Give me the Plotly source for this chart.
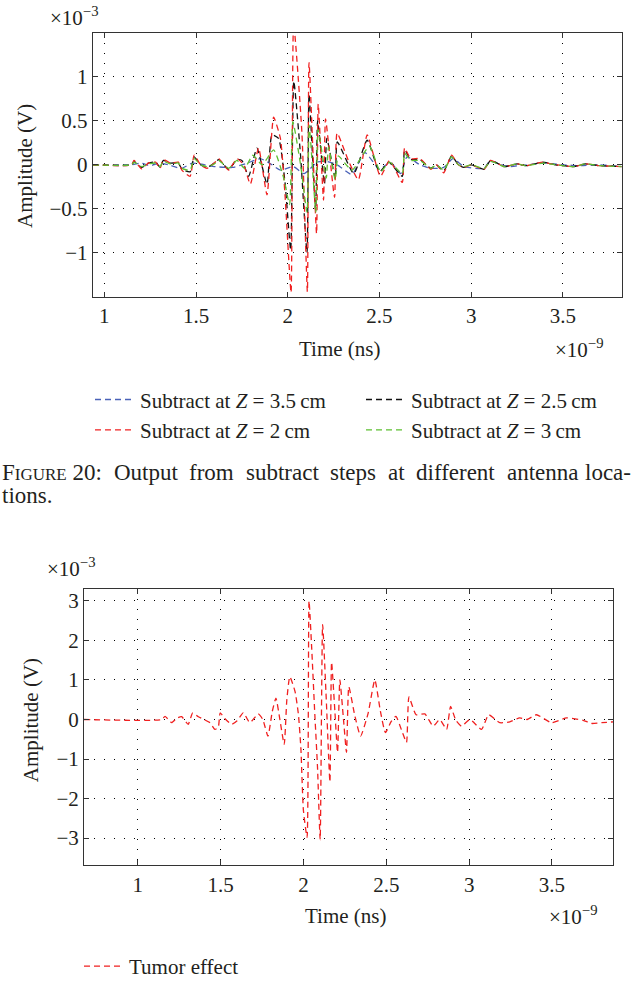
import plotly.graph_objects as go

# ---------------- data (time in ns, amplitude in mV) ----------------
t_z35 = [0.937, 1.150, 1.200, 1.250, 1.300, 1.350, 1.420, 1.480, 1.520, 1.600,
         1.700, 1.780, 1.850, 1.900, 1.960, 2.030, 2.090, 2.160, 2.210, 2.270,
         2.350, 2.420, 2.500, 2.560, 2.615, 2.650, 2.720, 2.780, 2.850, 2.900,
         2.960, 3.070, 3.100, 3.200, 3.300, 3.400, 3.500, 3.600, 3.700, 3.820]
v_z35 = [0, 0, 0.02, -0.01, 0.02, 0.0, -0.04, 0.02, 0.01, -0.02,
         -0.03, 0.02, 0.07, 0.02, -0.06, -0.02, -0.1, 0.03, 0.04, 0.0,
         -0.11, 0.14, -0.05, 0.03, -0.1, 0.09, 0.0, -0.04, -0.03, 0.07,
         -0.02, -0.04, 0.04, -0.02, 0.0, 0.02, 0.0, -0.01, 0.0, -0.02]

t_z25 = [0.937, 1.150, 1.162, 1.204, 1.240, 1.280, 1.304, 1.322, 1.360, 1.404,
         1.423, 1.468, 1.490, 1.525, 1.560, 1.600, 1.623, 1.678, 1.723, 1.750,
         1.787, 1.832, 1.887, 1.914, 1.950, 1.985, 2.016, 2.033, 2.070, 2.105,
         2.116, 2.152, 2.163, 2.200, 2.213, 2.259, 2.270, 2.360, 2.433, 2.500,
         2.550, 2.624, 2.637, 2.670, 2.720, 2.780, 2.810, 2.850, 2.893, 2.930,
         2.960, 3.000, 3.070, 3.106, 3.180, 3.250, 3.300, 3.390, 3.460, 3.560,
         3.620, 3.700, 3.820]
v_z25 = [0, 0, 0.04, -0.03, 0.02, 0.03, -0.03, 0.05, 0.02, 0.02,
         -0.05, -0.08, 0.09, 0.0, -0.03, 0.02, 0.06, -0.05, 0.06, 0.05,
         -0.13, 0.19, -0.22, 0.34, 0.3, -0.2, -0.97, 0.95, 0.1, -1.0,
         0.8, -0.52, 0.5, -0.22, 0.3, -0.15, 0.26, -0.1, 0.28, -0.08,
         0.03, -0.13, 0.17, 0.06, 0.06, -0.04, 0.0, -0.07, 0.1, 0.0,
         -0.03, 0.0, -0.05, 0.05, -0.02, 0.01, -0.01, 0.03, 0.0, -0.02,
         0.01, -0.01, -0.02]

t_z20 = [0.937, 1.150, 1.162, 1.204, 1.240, 1.280, 1.304, 1.322, 1.360, 1.404,
         1.423, 1.468, 1.490, 1.525, 1.560, 1.600, 1.623, 1.678, 1.723, 1.760,
         1.796, 1.841, 1.887, 1.923, 1.960, 1.986, 2.018, 2.032, 2.077, 2.107,
         2.116, 2.157, 2.166, 2.195, 2.206, 2.255, 2.269, 2.330, 2.385, 2.433,
         2.505, 2.555, 2.624, 2.637, 2.670, 2.720, 2.780, 2.810, 2.850, 2.893,
         2.930, 2.960, 3.000, 3.070, 3.106, 3.180, 3.250, 3.300, 3.390, 3.460,
         3.560, 3.620, 3.700, 3.820]
v_z20 = [0, 0, 0.05, -0.045, 0.02, 0.03, -0.04, 0.06, 0.02, 0.03,
         -0.06, -0.13, 0.11, 0.0, -0.04, 0.02, 0.07, -0.06, 0.07, 0.0,
         -0.22, 0.19, -0.34, 0.54, 0.3, -0.37, -1.45, 1.6, 0.37, -1.44,
         1.16, -0.78, 0.69, -0.4, 0.52, -0.37, 0.36, 0.05, -0.17, 0.34,
         -0.13, 0.05, -0.2, 0.19, 0.07, 0.07, -0.05, 0.0, -0.09, 0.11,
         0.0, -0.03, 0.0, -0.05, 0.05, -0.02, 0.01, -0.01, 0.03, 0.0,
         -0.02, 0.01, -0.01, -0.02]

t_z30 = [0.937, 1.150, 1.162, 1.204, 1.240, 1.280, 1.304, 1.322, 1.360, 1.404,
         1.423, 1.468, 1.490, 1.525, 1.560, 1.600, 1.623, 1.678, 1.723, 1.765,
         1.810, 1.860, 1.923, 1.978, 2.010, 2.028, 2.070, 2.105, 2.117, 2.153,
         2.165, 2.210, 2.222, 2.259, 2.275, 2.350, 2.445, 2.505, 2.555, 2.624,
         2.637, 2.670, 2.720, 2.780, 2.810, 2.850, 2.893, 2.930, 2.960, 3.000,
         3.070, 3.106, 3.180, 3.250, 3.300, 3.390, 3.460, 3.560, 3.620, 3.700,
         3.820]
v_z30 = [0, 0, 0.03, -0.02, 0.01, 0.02, -0.02, 0.04, 0.01, 0.02,
         -0.04, -0.06, 0.07, 0.0, -0.02, 0.01, 0.05, -0.04, 0.05, -0.04,
         0.11, 0.0, 0.17, -0.15, -0.45, 0.49, 0.0, -0.54, 0.45, -0.54,
         0.4, -0.15, 0.2, -0.17, 0.1, -0.06, 0.21, -0.08, 0.03, -0.1,
         0.13, 0.05, 0.05, -0.04, 0.0, -0.06, 0.09, 0.0, -0.02, 0.0,
         -0.04, 0.04, -0.02, 0.01, -0.01, 0.02, 0.0, -0.02, 0.01, -0.01,
         -0.02]

t_tumor = [0.676, 1.145, 1.165, 1.205, 1.235, 1.265, 1.305, 1.332, 1.366, 1.400,
           1.436, 1.466, 1.486, 1.498, 1.527, 1.567, 1.600, 1.637, 1.677, 1.727,
           1.755, 1.786, 1.812, 1.834, 1.858, 1.884, 1.900, 1.918, 1.950, 1.970,
           1.985, 2.000, 2.022, 2.034, 2.050, 2.069, 2.085, 2.101, 2.116, 2.138,
           2.160, 2.170, 2.190, 2.206, 2.220, 2.242, 2.260, 2.274, 2.310, 2.345,
           2.390, 2.431, 2.465, 2.495, 2.530, 2.558, 2.595, 2.622, 2.637, 2.680,
           2.733, 2.783, 2.823, 2.864, 2.888, 2.920, 2.954, 3.005, 3.075, 3.118,
           3.185, 3.245, 3.305, 3.350, 3.406, 3.497, 3.588, 3.688, 3.738, 3.800,
           3.870]
v_tumor = [0, 0, 0.08, -0.08, 0.03, 0.07, -0.12, 0.17, 0.07, 0.0,
           -0.08, -0.25, -0.2, 0.17, 0.02, -0.12, -0.03, 0.17, -0.08, 0.14,
           0.0, -0.42, 0.2, 0.54, 0.0, -0.63, 0.5, 1.08, 0.7, 0.12,
           -0.75, -2.3, -2.98, 3.0, 1.8, 0.12, -1.2, -3.04, 2.4, 0.5,
           -1.58, 1.45, 0.2, -0.83, 1.0, 0.0, -0.83, 0.83, 0.1, -0.42,
           0.15, 1.0, 0.2, -0.33, -0.05, 0.08, -0.3, -0.58, 0.57, 0.12,
           0.14, -0.17, 0.0, -0.25, 0.33, -0.02, -0.17, 0.0, -0.25, 0.12,
           -0.08, -0.06, 0.04, 0.0, 0.12, -0.08, 0.04, -0.02, -0.1, -0.08,
           -0.06]

top_xticks = [1, 1.5, 2, 2.5, 3, 3.5]
top_yticks = [-1, -0.5, 0, 0.5, 1]
bot_xticks = [1, 1.5, 2, 2.5, 3, 3.5]
bot_yticks = [-3, -2, -1, 0, 1, 2, 3]

caption_words = ["F<span style='font-size:17px'>IGURE</span> 20:", "Output", "from", "subtract",
                 "steps", "at", "different", "antenna", "loca-"]

# ---------------- figure ----------------
W, H = 637, 987
FONT = "Liberation Serif"
FS = 21
CAP_FS = 23
TXT = "#231f20"


def px(x):
    return x / W


def py(y):
    return 1 - y / H


DASH = "6px,4px"
LW = 1.3

fig = go.Figure()
series = [
    (t_z35, v_z35, "#4a62b8", "Subtract at <i>Z</i> = 3.5\u2009cm"),
    (t_z25, v_z25, "#111111", "Subtract at <i>Z</i> = 2.5\u2009cm"),
    (t_z20, v_z20, "#f02020", "Subtract at <i>Z</i> = 2\u2009cm"),
    (t_z30, v_z30, "#5cc030", "Subtract at <i>Z</i> = 3\u2009cm"),
]
for t, v, c, name in series:
    fig.add_trace(go.Scatter(x=t, y=v, mode="lines", name=name,
                             line=dict(color=c, width=LW, dash=DASH, shape="spline", smoothing=0.5),
                             xaxis="x", yaxis="y", legend="legend"))

fig.add_trace(go.Scatter(x=t_tumor, y=v_tumor, mode="lines", name="Tumor effect",
                         line=dict(color="#f02020", width=LW, dash=DASH, shape="spline", smoothing=0.5),
                         xaxis="x2", yaxis="y2", legend="legend2"))

axis_common = dict(
    ticks="inside", ticklen=5, tickcolor="#333333", mirror="allticks",
    showline=True, linecolor="#333333", linewidth=1,
    showgrid=True, gridcolor="#000000", griddash="1px,9px", gridwidth=1,
    zeroline=False, tickfont=dict(family=FONT, size=FS, color=TXT),
)

fig.update_layout(
    width=W, height=H, autosize=False,
    margin=dict(l=0, r=0, t=0, b=0),
    paper_bgcolor="white", plot_bgcolor="white",
    showlegend=True,
    xaxis=dict(domain=[px(92.7), px(621.7)], range=[0.937, 3.82], tickvals=top_xticks,
               anchor="y", **axis_common),
    yaxis=dict(domain=[py(300.7), py(33)], range=[-1.5, 1.5], tickvals=top_yticks,
               anchor="x", **axis_common),
    xaxis2=dict(domain=[px(84), px(613.3)], range=[0.676, 3.87], tickvals=bot_xticks,
                anchor="y2", **axis_common),
    yaxis2=dict(domain=[py(876), py(596.7)], range=[-3.69, 3.29], tickvals=bot_yticks,
                anchor="x2", **axis_common),
    legend=dict(orientation="h", x=px(90), xanchor="left", y=py(384), yanchor="top",
                entrywidth=216, entrywidthmode="pixels", itemwidth=40, bgcolor="rgba(0,0,0,0)",
                font=dict(family=FONT, size=FS, color=TXT), tracegroupgap=0),
    legend2=dict(orientation="h", x=px(79), xanchor="left", y=py(958), yanchor="top",
                 itemwidth=40, bgcolor="rgba(0,0,0,0)", font=dict(family=FONT, size=FS, color=TXT)),
)

ann = []


def add_text(x, y, text, size=FS, xanchor="center", yanchor="middle", angle=0):
    ann.append(dict(x=px(x), y=py(y), xref="paper", yref="paper", text=text,
                    showarrow=False, xanchor=xanchor, yanchor=yanchor, textangle=angle,
                    font=dict(family=FONT, size=size, color=TXT)))


# top chart texts
add_text(48, 17, "\u00d710<sup>\u22123</sup>", xanchor="left")
add_text(553, 353, "\u00d710<sup>\u22129</sup>", xanchor="left")
add_text(340, 353, "Time (ns)")
add_text(25, 168, "Amplitude (V)", angle=-90)
# caption (justified line placed word by word)
cap_x = [0, 111.7, 187.3, 243.6, 328.1, 385.8, 414.0, 504.9, 633]
for word, x in zip(caption_words, cap_x):
    add_text(x, 478, word, size=CAP_FS, xanchor="right" if word.endswith("-") else "left")
add_text(0, 502, "tions.", size=CAP_FS, xanchor="left")
# bottom chart texts
add_text(45, 574, "\u00d710<sup>\u22123</sup>", xanchor="left")
add_text(547, 927, "\u00d710<sup>\u22129</sup>", xanchor="left")
add_text(346, 927, "Time (ns)")
add_text(31, 729, "Amplitude (V)", angle=-90)

fig.update_layout(annotations=ann)

PAGE_JS = (
    "var de=document.documentElement, b=document.body;"
    "de.style.margin='0';de.style.padding='0';de.style.overflow='hidden';"
    "b.style.margin='0';b.style.padding='0';b.style.overflow='hidden';"
    "b.style.lineHeight='0';b.style.fontSize='0';"
)
fig.write_html("out.html",
               config={"displayModeBar": False, "responsive": False},
               post_script=PAGE_JS)
